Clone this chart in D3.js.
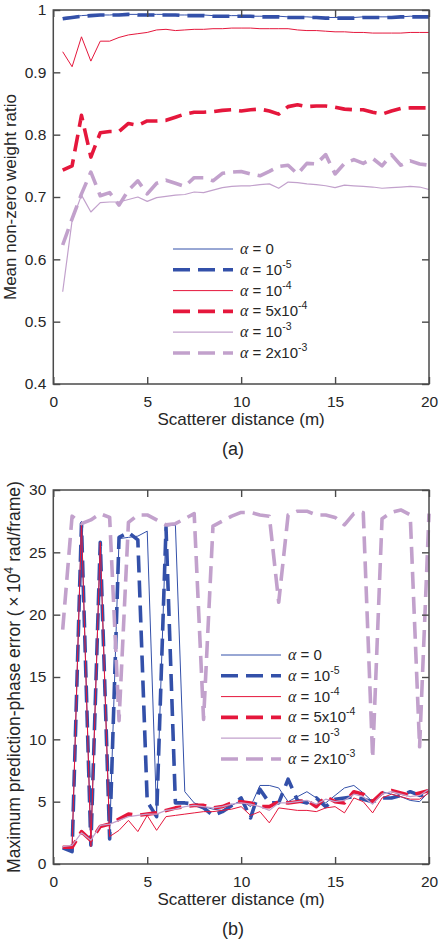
<!DOCTYPE html>
<html>
<head>
<meta charset="utf-8">
<script src="https://cdn.jsdelivr.net/npm/d3@7"></script>
<style>
body { margin: 0; background: #fff; }
svg text { font-family: "Liberation Sans", Arial, sans-serif; fill: #262626; }
.greek { font-family: "Liberation Serif", "Times New Roman", serif; font-style: italic; }
</style>
</head>
<body>
<div id="container"></div>
<script>
// scatterer distance (m)
const distance = [0.5, 1, 1.5, 2, 2.5, 3, 3.5, 4, 4.5, 5, 5.5, 6, 6.5, 7, 7.5, 8, 8.5, 9, 9.5, 10,
    10.5, 11, 11.5, 12, 12.5, 13, 13.5, 14, 14.5, 15, 15.5, 16, 16.5, 17, 17.5, 18, 18.5, 19, 19.5, 20];

// (a) mean non-zero weight ratio
const ratioAlpha0 = [0.988,0.989,0.991,0.992,0.992,0.992,0.993,0.993,0.993,0.993,0.993,0.993,0.992,0.992,0.992,0.992,0.991,0.991,0.991,0.991,
    0.990,0.990,0.990,0.990,0.989,0.989,0.989,0.988,0.988,0.988,0.988,0.988,0.989,0.989,0.989,0.989,0.989,0.990,0.990,0.990];
const ratioAlpha1e5 = [0.986,0.988,0.990,0.991,0.992,0.992,0.992,0.993,0.992,0.992,0.992,0.992,0.992,0.991,0.991,0.991,0.990,0.990,0.990,0.990,
    0.990,0.989,0.989,0.989,0.988,0.988,0.988,0.988,0.987,0.987,0.987,0.987,0.988,0.988,0.988,0.988,0.989,0.989,0.989,0.989];
const ratioAlpha1e4 = [0.933,0.909,0.957,0.918,0.950,0.950,0.956,0.960,0.962,0.964,0.968,0.969,0.967,0.968,0.969,0.969,0.970,0.970,0.971,0.971,
    0.971,0.970,0.970,0.970,0.970,0.968,0.967,0.967,0.966,0.965,0.965,0.964,0.964,0.963,0.963,0.963,0.963,0.964,0.964,0.964];
const ratioAlpha5e4 = [0.743,0.750,0.831,0.764,0.803,0.805,0.805,0.818,0.815,0.822,0.822,0.823,0.828,0.833,0.836,0.836,0.837,0.839,0.840,0.838,
    0.840,0.841,0.838,0.833,0.845,0.848,0.845,0.846,0.846,0.844,0.841,0.840,0.840,0.836,0.833,0.838,0.842,0.843,0.843,0.843];
const ratioAlpha1e3 = [0.548,0.662,0.703,0.676,0.691,0.692,0.692,0.696,0.700,0.693,0.699,0.701,0.703,0.704,0.708,0.707,0.711,0.715,0.717,0.718,
    0.718,0.720,0.721,0.714,0.724,0.723,0.721,0.720,0.718,0.715,0.719,0.718,0.717,0.716,0.714,0.715,0.716,0.717,0.716,0.712];
const ratioAlpha2e3 = [0.623,0.665,0.705,0.740,0.702,0.707,0.687,0.711,0.726,0.705,0.722,0.727,0.722,0.717,0.731,0.731,0.726,0.738,0.740,0.741,
    0.737,0.734,0.741,0.749,0.751,0.737,0.754,0.753,0.768,0.737,0.754,0.760,0.754,0.762,0.750,0.768,0.751,0.758,0.753,0.751];

// (b) maximum prediction-phase error (x10^4 rad/frame)
const errAlpha0 = [1.3,1.2,27.5,1.6,25.9,2.3,26.1,26.2,26.3,26.7,4.0,27.1,27.2,5.8,4.9,4.6,4.4,4.3,4.7,5.1,
    4.6,6.3,6.3,6.1,5.0,5.4,5.8,5.3,4.9,5.5,6.1,6.3,5.7,5.0,5.8,5.6,5.4,5.1,5.0,5.8];
const errAlpha1e5 = [1.3,1.0,27.3,1.5,25.8,2.0,26.2,26.6,26.0,5.0,3.8,27.0,4.9,4.9,4.8,4.5,3.9,4.2,4.7,5.3,
    3.7,6.0,4.9,4.9,6.8,5.1,4.9,5.3,4.6,5.2,5.3,5.4,5.2,5.0,5.3,5.3,5.5,5.8,5.5,5.6];
const errAlpha1e4 = [1.4,1.3,27.4,1.4,25.8,2.2,2.7,3.5,2.6,3.9,2.7,3.8,3.9,4.0,4.1,4.2,4.2,4.3,4.4,4.6,
    3.9,4.2,3.3,4.5,4.4,4.3,4.3,4.2,4.5,4.6,4.1,5.3,5.0,4.1,5.3,5.6,5.4,5.2,5.2,5.7];
const errAlpha5e4 = [1.34,1.34,2.6,1.9,3.0,3.2,3.6,4.0,3.9,4.0,4.1,4.3,4.5,4.6,4.7,4.7,4.5,4.6,4.9,5.0,
    4.9,4.6,4.6,5.0,4.9,5.0,5.1,4.6,5.4,5.0,4.9,5.8,5.6,5.0,5.7,5.9,5.7,5.5,5.7,5.9];
const errAlpha1e3 = [1.4,1.5,2.5,1.9,3.1,3.2,3.5,3.8,3.9,4.0,4.0,4.3,4.4,4.6,4.7,4.6,4.5,4.6,4.8,4.9,
    4.8,4.6,4.3,4.9,4.9,5.0,5.1,4.8,5.2,5.0,5.1,5.6,5.4,4.8,5.6,5.8,5.6,5.4,5.5,6.0];
const errAlpha2e3 = [18.8,27.9,27.3,27.6,28.1,27.8,11.5,27.4,28.0,28.0,27.6,27.2,27.3,27.7,28.1,11.6,27.1,27.5,27.9,28.2,
    28.2,28.0,27.9,21.0,28.0,28.3,28.3,28.0,28.0,27.8,27.2,28.1,28.2,8.5,27.7,28.2,28.4,28.0,9.4,28.1];

// legend labels: alpha = base x 10^exp
const alphaBase = ["0", "10", "10", "5x10", "10", "2x10"];
const alphaExp = ["", "-5", "-4", "-4", "-3", "-3"];

const xTicks = [0, 5, 10, 15, 20];
const ratioTicks = [0.4, 0.5, 0.6, 0.7, 0.8, 0.9, 1];
const ratioTickLabels = ["0.4", "0.5", "0.6", "0.7", "0.8", "0.9", "1"];
const errTicks = [0, 5, 10, 15, 20, 25, 30];

// line styles per alpha (same order as legend)
const styles = [
    {col: "#3350a9", sw: 1, dash: null},
    {col: "#3350a9", sw: 3.6, dash: "17,8"},
    {col: "#e5173c", sw: 1, dash: null},
    {col: "#e5173c", sw: 3.6, dash: "17,8"},
    {col: "#c2a1cc", sw: 1.2, dash: null},
    {col: "#c2a1cc", sw: 3.6, dash: "17,8"}
];

const svg = d3.select("#container").append("svg")
    .attr("width", 440)
    .attr("height", 948);

svg.append("rect").attr("width", 440).attr("height", 948).attr("fill", "#fff");

function addLegend(g, lx, ly) {
    styles.forEach(function(s, i) {
        let y = ly + i * 20.8;
        g.append("line")
            .attr("x1", lx).attr("x2", lx + 60)
            .attr("y1", y).attr("y2", y)
            .attr("stroke", s.col)
            .attr("stroke-width", s.sw)
            .attr("stroke-dasharray", s.dash);
        let t = g.append("text")
            .attr("x", lx + 67)
            .attr("y", y + 5)
            .attr("font-size", 15);
        t.append("tspan").attr("class", "greek").attr("font-size", 16).text("\u03b1");
        t.append("tspan").text(" = " + alphaBase[i]);
        if (alphaExp[i]) {
            t.append("tspan").attr("dy", -7).attr("font-size", 10.5).text(alphaExp[i]);
        }
    });
}

function addChart(cfg) {
    const left = 53.3, right = 429, top = cfg.top, bottom = cfg.top + 374;

    const x = d3.scaleLinear().domain([0, 20]).range([left, right]);
    const y = d3.scaleLinear().domain(cfg.yDomain).range([bottom, top]);

    const g = svg.append("g");

    // lines
    const line = d3.line()
        .x((d, i) => x(distance[i]))
        .y(d => y(d));

    cfg.series.forEach(function(values, i) {
        let s = styles[i];
        g.append("path")
            .datum(values)
            .attr("fill", "none")
            .attr("stroke", s.col)
            .attr("stroke-width", s.sw)
            .attr("stroke-linejoin", "round")
            .attr("stroke-dasharray", s.dash)
            .attr("d", line);
    });

    // axes, ticks pointing inwards
    g.append("g")
        .attr("class", "axis")
        .attr("transform", "translate(0," + bottom + ")")
        .call(d3.axisBottom(x).tickValues(xTicks).tickSizeInner(-7).tickSizeOuter(0).tickPadding(12));
    g.append("g")
        .attr("class", "axis")
        .attr("transform", "translate(0," + top + ")")
        .call(d3.axisTop(x).tickValues(xTicks).tickSizeInner(-7).tickSizeOuter(0).tickFormat(""));
    g.append("g")
        .attr("class", "axis")
        .attr("transform", "translate(" + left + ",0)")
        .call(d3.axisLeft(y).tickValues(cfg.yTicks).tickSizeInner(-7).tickSizeOuter(0).tickPadding(7)
            .tickFormat((d, i) => cfg.yLabels[i]));
    g.append("g")
        .attr("class", "axis")
        .attr("transform", "translate(" + right + ",0)")
        .call(d3.axisRight(y).tickValues(cfg.yTicks).tickSizeInner(-7).tickSizeOuter(0).tickFormat(""));

    g.selectAll(".axis .domain").remove();
    g.selectAll(".axis line").attr("stroke", "#4a4a4a").attr("stroke-width", 1.4);
    g.selectAll(".axis text")
        .attr("font-size", 15.5)
        .attr("font-family", "Liberation Sans, Arial, sans-serif")
        .attr("fill", "#262626");

    g.append("rect")
        .attr("x", left).attr("y", top)
        .attr("width", right - left).attr("height", bottom - top)
        .attr("fill", "none")
        .attr("stroke", "#4a4a4a")
        .attr("stroke-width", 1.5);

    // x label
    g.append("text")
        .attr("x", (left + right) / 2)
        .attr("y", bottom + 41)
        .attr("text-anchor", "middle")
        .attr("font-size", 17)
        .text("Scatterer distance (m)");

    // y label
    const yt = g.append("text")
        .attr("transform", "translate(" + cfg.yLabelX + "," + (top + bottom) / 2 + ") rotate(-90)")
        .attr("text-anchor", "middle")
        .attr("font-size", cfg.yLabelSize);
    cfg.yTitle(yt);

    // caption
    g.append("text")
        .attr("x", 233)
        .attr("y", bottom + 71)
        .attr("text-anchor", "middle")
        .attr("font-size", 18)
        .text(cfg.caption);

    addLegend(g, cfg.legendX, cfg.legendY);
}

addChart({
    top: 10,
    yDomain: [0.4, 1],
    yTicks: ratioTicks,
    yLabels: ratioTickLabels,
    series: [ratioAlpha0, ratioAlpha1e5, ratioAlpha1e4, ratioAlpha5e4, ratioAlpha1e3, ratioAlpha2e3],
    yLabelX: 16,
    yLabelSize: 17,
    yTitle: t => t.text("Mean non-zero weight ratio"),
    caption: "(a)",
    legendX: 173,
    legendY: 249
});

addChart({
    top: 490,
    yDomain: [0, 30],
    yTicks: errTicks,
    yLabels: errTicks.map(String),
    series: [errAlpha0, errAlpha1e5, errAlpha1e4, errAlpha5e4, errAlpha1e3, errAlpha2e3],
    yLabelX: 20,
    yLabelSize: 17.5,
    yTitle: function(t) {
        t.append("tspan").text("Maximum prediction-phase error (\u2009\u00d7\u200910");
        t.append("tspan").attr("dy", -7).attr("font-size", 12.5).text("4");
        t.append("tspan").attr("dy", 7).text(" rad/frame)");
    },
    caption: "(b)",
    legendX: 221,
    legendY: 655
});
</script>
</body>
</html>
